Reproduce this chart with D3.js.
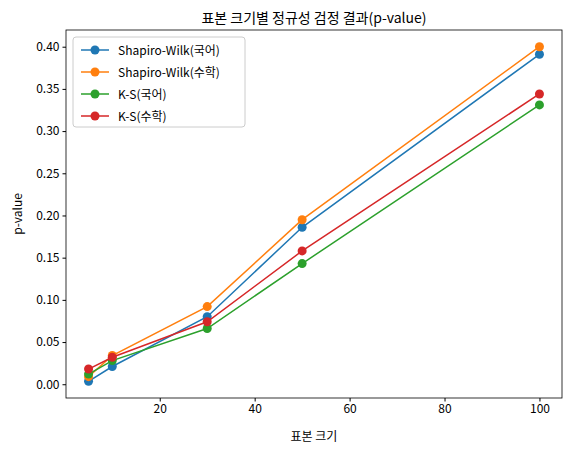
<!DOCTYPE html>
<html><head><meta charset="utf-8">
<script src="https://cdn.jsdelivr.net/npm/d3@7"></script>
<style>body{margin:0;background:#fff}text{font-family:"Noto Sans CJK KR","Noto Sans",sans-serif}</style>
</head><body><div id="chart"></div>
<script>
const sampleSizes = [5, 10, 30, 50, 100];
const swKor = [0.0035, 0.021, 0.080, 0.186, 0.391];
const swMath = [0.009, 0.034, 0.092, 0.195, 0.400];
const ksKor = [0.012, 0.028, 0.066, 0.143, 0.331];
const ksMath = [0.018, 0.032, 0.074, 0.158, 0.344];
const seriesNames = ['Shapiro-Wilk(국어)', 'Shapiro-Wilk(수학)', 'K-S(국어)', 'K-S(수학)'];
const colors = ['#1f77b4', '#ff7f0e', '#2ca02c', '#d62728'];
const xTicks = [20, 40, 60, 80, 100];
const yTicks = [0, 0.05, 0.1, 0.15, 0.2, 0.25, 0.3, 0.35, 0.4];

const width = 572, height = 455;
const margin = { top: 30, right: 10, bottom: 57, left: 66 };
const svg = d3.select('#chart').append('svg').attr('width', width).attr('height', height);

const x = d3.scaleLinear().domain([0.25, 104.75]).range([margin.left, width - margin.right]);
const y = d3.scaleLinear().domain([-0.0163, 0.4198]).range([height - margin.bottom, margin.top]);

const xAxis = svg.append('g').attr('transform', `translate(0,${height - margin.bottom})`)
  .call(d3.axisBottom(x).tickValues(xTicks).tickSize(3.5).tickPadding(3).tickFormat(d3.format('d')));
const yAxis = svg.append('g').attr('transform', `translate(${margin.left},0)`)
  .call(d3.axisLeft(y).tickValues(yTicks).tickSize(3.5).tickPadding(3).tickFormat(d3.format('.2f')));
[xAxis, yAxis].forEach(a => { a.selectAll('text').attr('font-size', 12).attr('fill', '#000'); a.select('.domain').remove(); });

svg.append('rect').attr('x', margin.left).attr('y', margin.top)
  .attr('width', width - margin.left - margin.right).attr('height', height - margin.top - margin.bottom)
  .attr('fill', 'none').attr('stroke', '#000').attr('stroke-width', 0.8);

const allSeries = [swKor, swMath, ksKor, ksMath];
const line = d3.line().x((d, i) => x(sampleSizes[i])).y(d => y(d));
allSeries.forEach((vals, s) => {
  svg.append('path').datum(vals).attr('fill', 'none').attr('stroke', colors[s]).attr('stroke-width', 1.5).attr('d', line);
  svg.append('g').selectAll('circle').data(vals).enter().append('circle')
    .attr('cx', (d, i) => x(sampleSizes[i])).attr('cy', d => y(d)).attr('r', 4.5).attr('fill', colors[s]);
});

svg.append('text').attr('x', (margin.left + width - margin.right) / 2).attr('y', 23)
  .attr('text-anchor', 'middle').attr('font-size', 14).text('표본 크기별 정규성 검정 결과(p-value)');
svg.append('text').attr('x', (margin.left + width - margin.right) / 2).attr('y', 441)
  .attr('text-anchor', 'middle').attr('font-size', 12).text('표본 크기');
svg.append('text').attr('transform', `translate(22,${(margin.top + height - margin.bottom) / 2}) rotate(-90)`)
  .attr('text-anchor', 'middle').attr('font-size', 12).text('p-value');

const lg = svg.append('g').attr('transform', `translate(${margin.left + 7},${margin.top + 7})`);
lg.append('rect').attr('width', 172).attr('height', 90).attr('rx', 3).attr('fill', '#fff')
  .attr('fill-opacity', 0.8).attr('stroke', '#ccc');
seriesNames.forEach((n, i) => {
  const cy = 13 + i * 22;
  lg.append('line').attr('x1', 8).attr('x2', 36).attr('y1', cy).attr('y2', cy).attr('stroke', colors[i]).attr('stroke-width', 1.5);
  lg.append('circle').attr('cx', 22).attr('cy', cy).attr('r', 4.5).attr('fill', colors[i]);
  lg.append('text').attr('x', 45).attr('y', cy + 4.5).attr('font-size', 12).text(n);
});
</script></body></html>
